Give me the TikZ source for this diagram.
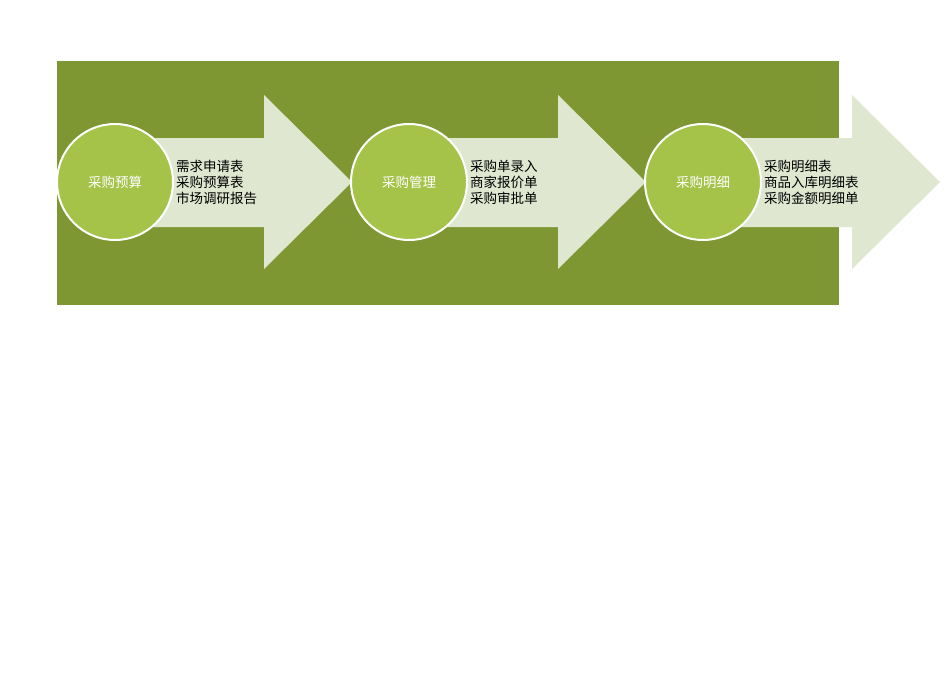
\documentclass[tikz,border=0pt]{standalone}
\usepackage{fontspec}
\setmainfont{Noto Sans CJK SC}
\usepackage{xcolor}
\usetikzlibrary{positioning}
\definecolor{bgolive}{HTML}{7F9733}
\definecolor{circgreen}{HTML}{A5C249}
\definecolor{arrowpale}{HTML}{DFE7D0}

\begin{document}
\begin{tikzpicture}[x=1pt, y=-1pt, node distance=2pt,
    stage/.style={draw=white, line width=2pt, circle, fill=circgreen, minimum size=116pt, inner sep=0pt, text=white, font=\fontsize{13.5}{16}\selectfont},
    items/.style={inner sep=0pt, align=left, anchor=west, font=\fontsize{13.5}{16}\selectfont}]
            \useasboundingbox (0,0) rectangle (950,672);
            % 背景
            \fill[bgolive] (57,61) rectangle (839,305);

            % 箭头
            \fill[arrowpale] (115,138) -- (264,138) -- (264,95) -- (352,182) -- (264,269) -- (264,227) -- (115,227) -- cycle;
            \fill[arrowpale] (409,138) -- (558,138) -- (558,95) -- (646,182) -- (558,269) -- (558,227) -- (409,227) -- cycle;
            \fill[arrowpale] (703,138) -- (852,138) -- (852,95) -- (940,182) -- (852,269) -- (852,227) -- (703,227) -- cycle;

            % 采购预算
            \node[stage] (budget) at (115,182) {采购预算};
            \node[items, right=of budget] (budgetlist) {需求申请表\\采购预算表\\市场调研报告};

            % 采购管理
            \node[stage] (manage) at (409,182) {采购管理};
            \node[items, right=of manage] (managelist) {采购单录入\\商家报价单\\采购审批单};

            % 采购明细
            \node[stage] (detail) at (703,182) {采购明细};
            \node[items, right=of detail] (detaillist) {采购明细表\\商品入库明细表\\采购金额明细单};
        \end{tikzpicture}
\end{document}
